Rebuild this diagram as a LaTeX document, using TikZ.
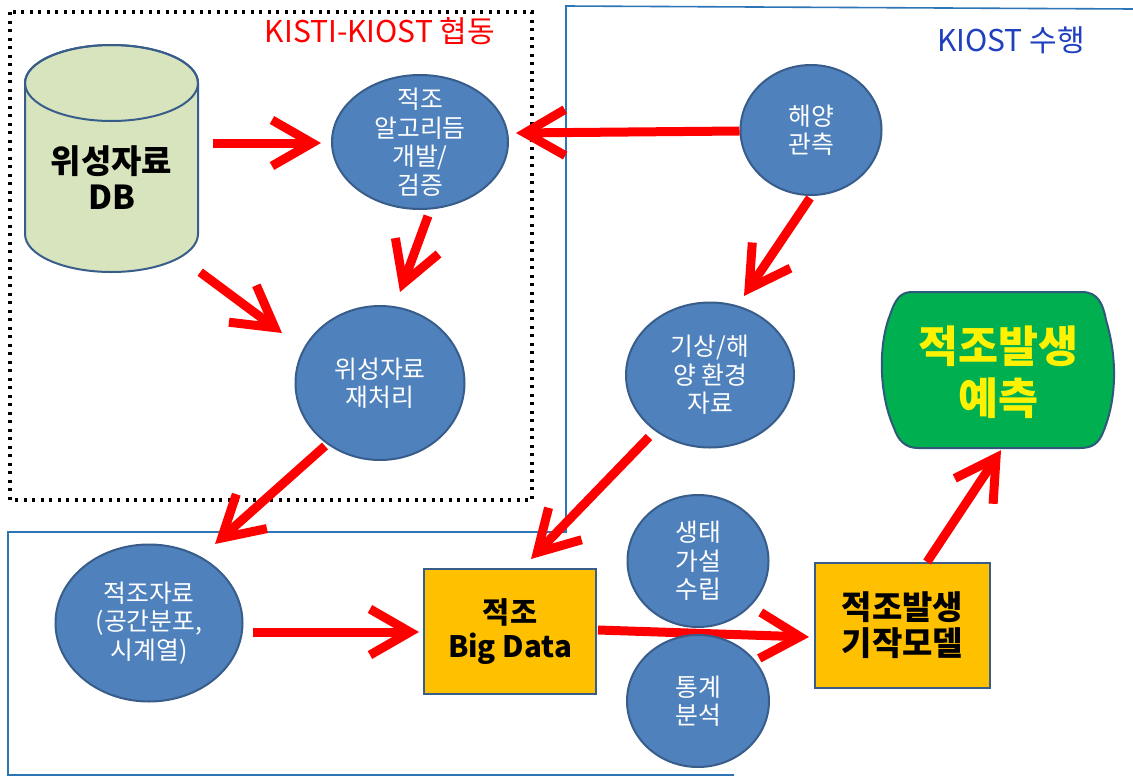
\documentclass[tikz,border=0pt]{standalone}
\usepackage{fontspec}
\newfontfamily\kr{Noto Sans CJK KR}
\usetikzlibrary{shapes.geometric,arrows.meta,calc}
\definecolor{cfill}{HTML}{4F81BD}
\definecolor{cline}{HTML}{385D8A}
\definecolor{dbfill}{HTML}{D7E4BD}
\definecolor{boxfill}{HTML}{FFC000}
\definecolor{gfill}{HTML}{00B050}
\definecolor{gline}{HTML}{2E5A7A}
\definecolor{frameblue}{HTML}{2E75B6}
\definecolor{kiost}{HTML}{1F3FBF}
\begin{document}
\begin{tikzpicture}[x=1pt,y=-1pt,
  circ/.style={ellipse,fill=cfill,draw=cline,line width=2pt,inner sep=0pt},
  ctext/.style={text=white,align=center,font=\kr\fontsize{24.8}{28.5}\selectfont},
  sbox/.style={rectangle,fill=boxfill,draw=cline,line width=2pt,inner sep=0pt,align=center},
  arr/.style={draw=red,line width=9pt,-{Straight Barb[length=40pt,width=46pt]}},
  dotframe/.style={draw=black,line width=3.5pt,dash pattern=on 3pt off 5.5pt},
  blueframe/.style={draw=frameblue,line width=1.6pt},
]
\useasboundingbox (0,0) rectangle (1133,777);
\fill[white] (0,0) rectangle (1133,777);

% frames
\draw[dotframe] (10,12) rectangle (532,500);
\draw[blueframe] (734,775) -- (8,775) -- (8,532) -- (566,532) -- (566,6) -- (1133,9);
\node[text=red,font=\kr\fontsize{30}{34}\selectfont] (kisti) at (380,31) {KISTI-KIOST 협동};
\node[text=kiost,font=\kr\fontsize{30}{34}\selectfont] (kiostl) at (1011,40) {KIOST 수행};

% cylinder (satellite DB)
\path[fill=dbfill,draw=cline,line width=2pt] (25,83) -- (25,234) arc[start angle=180,end angle=0,x radius=86.5,y radius=38] -- (198,83) arc[start angle=0,end angle=-180,x radius=86.5,y radius=38] -- cycle;
\draw[cline,line width=2pt] (111.5,83) ellipse[x radius=86.5,y radius=38];
\node[minimum width=173pt,minimum height=227pt,inner sep=0pt] (cyl) at (111.5,158.5) {};
\node[align=center,font=\kr\bfseries\fontsize{33}{36}\selectfont] at (111.5,178) {위성자료\\DB};

% circles
\node[circ,minimum width=176pt,minimum height=134pt] (alg) at (420,142) {};
\node[ctext] at (alg) {적조\\알고리듬\\개발/\\검증};
\node[circ,minimum width=141pt,minimum height=130pt] (hae) at (811,130) {};
\node[ctext] at (hae) {해양\\관측};
\node[circ,minimum width=169pt,minimum height=154pt] (re) at (380,383) {};
\node[ctext] at (re) {위성자료\\재처리};
\node[circ,minimum width=187pt,minimum height=157pt] (red) at (149,623) {};
\node[ctext] at (red) {적조자료\\(공간분포,\\시계열)};
\node[circ,minimum width=168pt,minimum height=145pt] (env) at (710,375) {};
\node[ctext] at (env) {기상/해\\양 환경\\자료};
\node[circ,minimum width=141pt,minimum height=132pt] (eco) at (698,561) {};
\node[ctext] at (eco) {생태\\가설\\수립};

% boxes
\node[sbox,minimum width=172pt,minimum height=125pt,font=\kr\bfseries\fontsize{29.5}{34}\selectfont] (big) at (510,631.5) {적조\\Big Data};
\node[sbox,minimum width=175pt,minimum height=125pt,font=\kr\bfseries\fontsize{33}{36}\selectfont] (model) at (902.5,625.5) {적조발생\\기작모델};

% prediction terminal
\path[fill=gfill,draw=gline,line width=2pt] (912,292) -- (1082,292) .. controls (1098,292) and (1103,304) .. (1106,320) .. controls (1118,360) and (1116,400) .. (1104,430) .. controls (1099,444) and (1092,448) .. (1080,448) -- (918,448) .. controls (905,448) and (898,440) .. (894,428) .. controls (879,395) and (878,345) .. (890,315) .. controls (895,300) and (900,292) .. (912,292) -- cycle;
\node[minimum width=235pt,minimum height=156pt,inner sep=0pt] (pred) at (998.5,370) {};
\node[text=yellow,align=center,font=\kr\bfseries\fontsize{43.5}{52}\selectfont] at (998.5,372) {적조발생\\예측};

% arrows
\draw[arr] ($(cyl.east)+(15,-15.5)$) -- ($(alg.west)+(-10,1)$);
\draw[arr] ($(hae.west)+(0,1)$) -- ($(alg.east)+(7,-9)$);
\draw[arr] ($(alg.south)+(8,6)$) -- ($(re.north)+(20,-13)$);
\draw[arr] ($(cyl.south east)+(2,0)$) -- ($(re.west)+(-12.5,-50)$);
\draw[arr] ($(re.south)+(-55,-15)$) -- ($(red.north)+(66,0.5)$);
\draw[arr] ($(hae.south)+(-1,2)$) -- ($(env.north)+(34,-5.5)$);
\draw[arr] ($(env.south)+(-61,-11.5)$) -- ($(big.north)+(21,-9)$);
\draw[arr] ($(red.east)+(9.5,9)$) -- ($(big.west)+(-4,0.5)$);
\draw[arr] ($(big.east)+(1,-1.5)$) -- ($(model.west)+(-5,11.5)$);
\draw[arr] ($(model.north)+(24.5,0)$) -- ($(pred.south)+(2.5,2)$);

\node[circ,minimum width=142pt,minimum height=132pt] (stat) at (698,701) {};
\node[ctext] at (stat) {통계\\분석};
\end{tikzpicture}
\end{document}
